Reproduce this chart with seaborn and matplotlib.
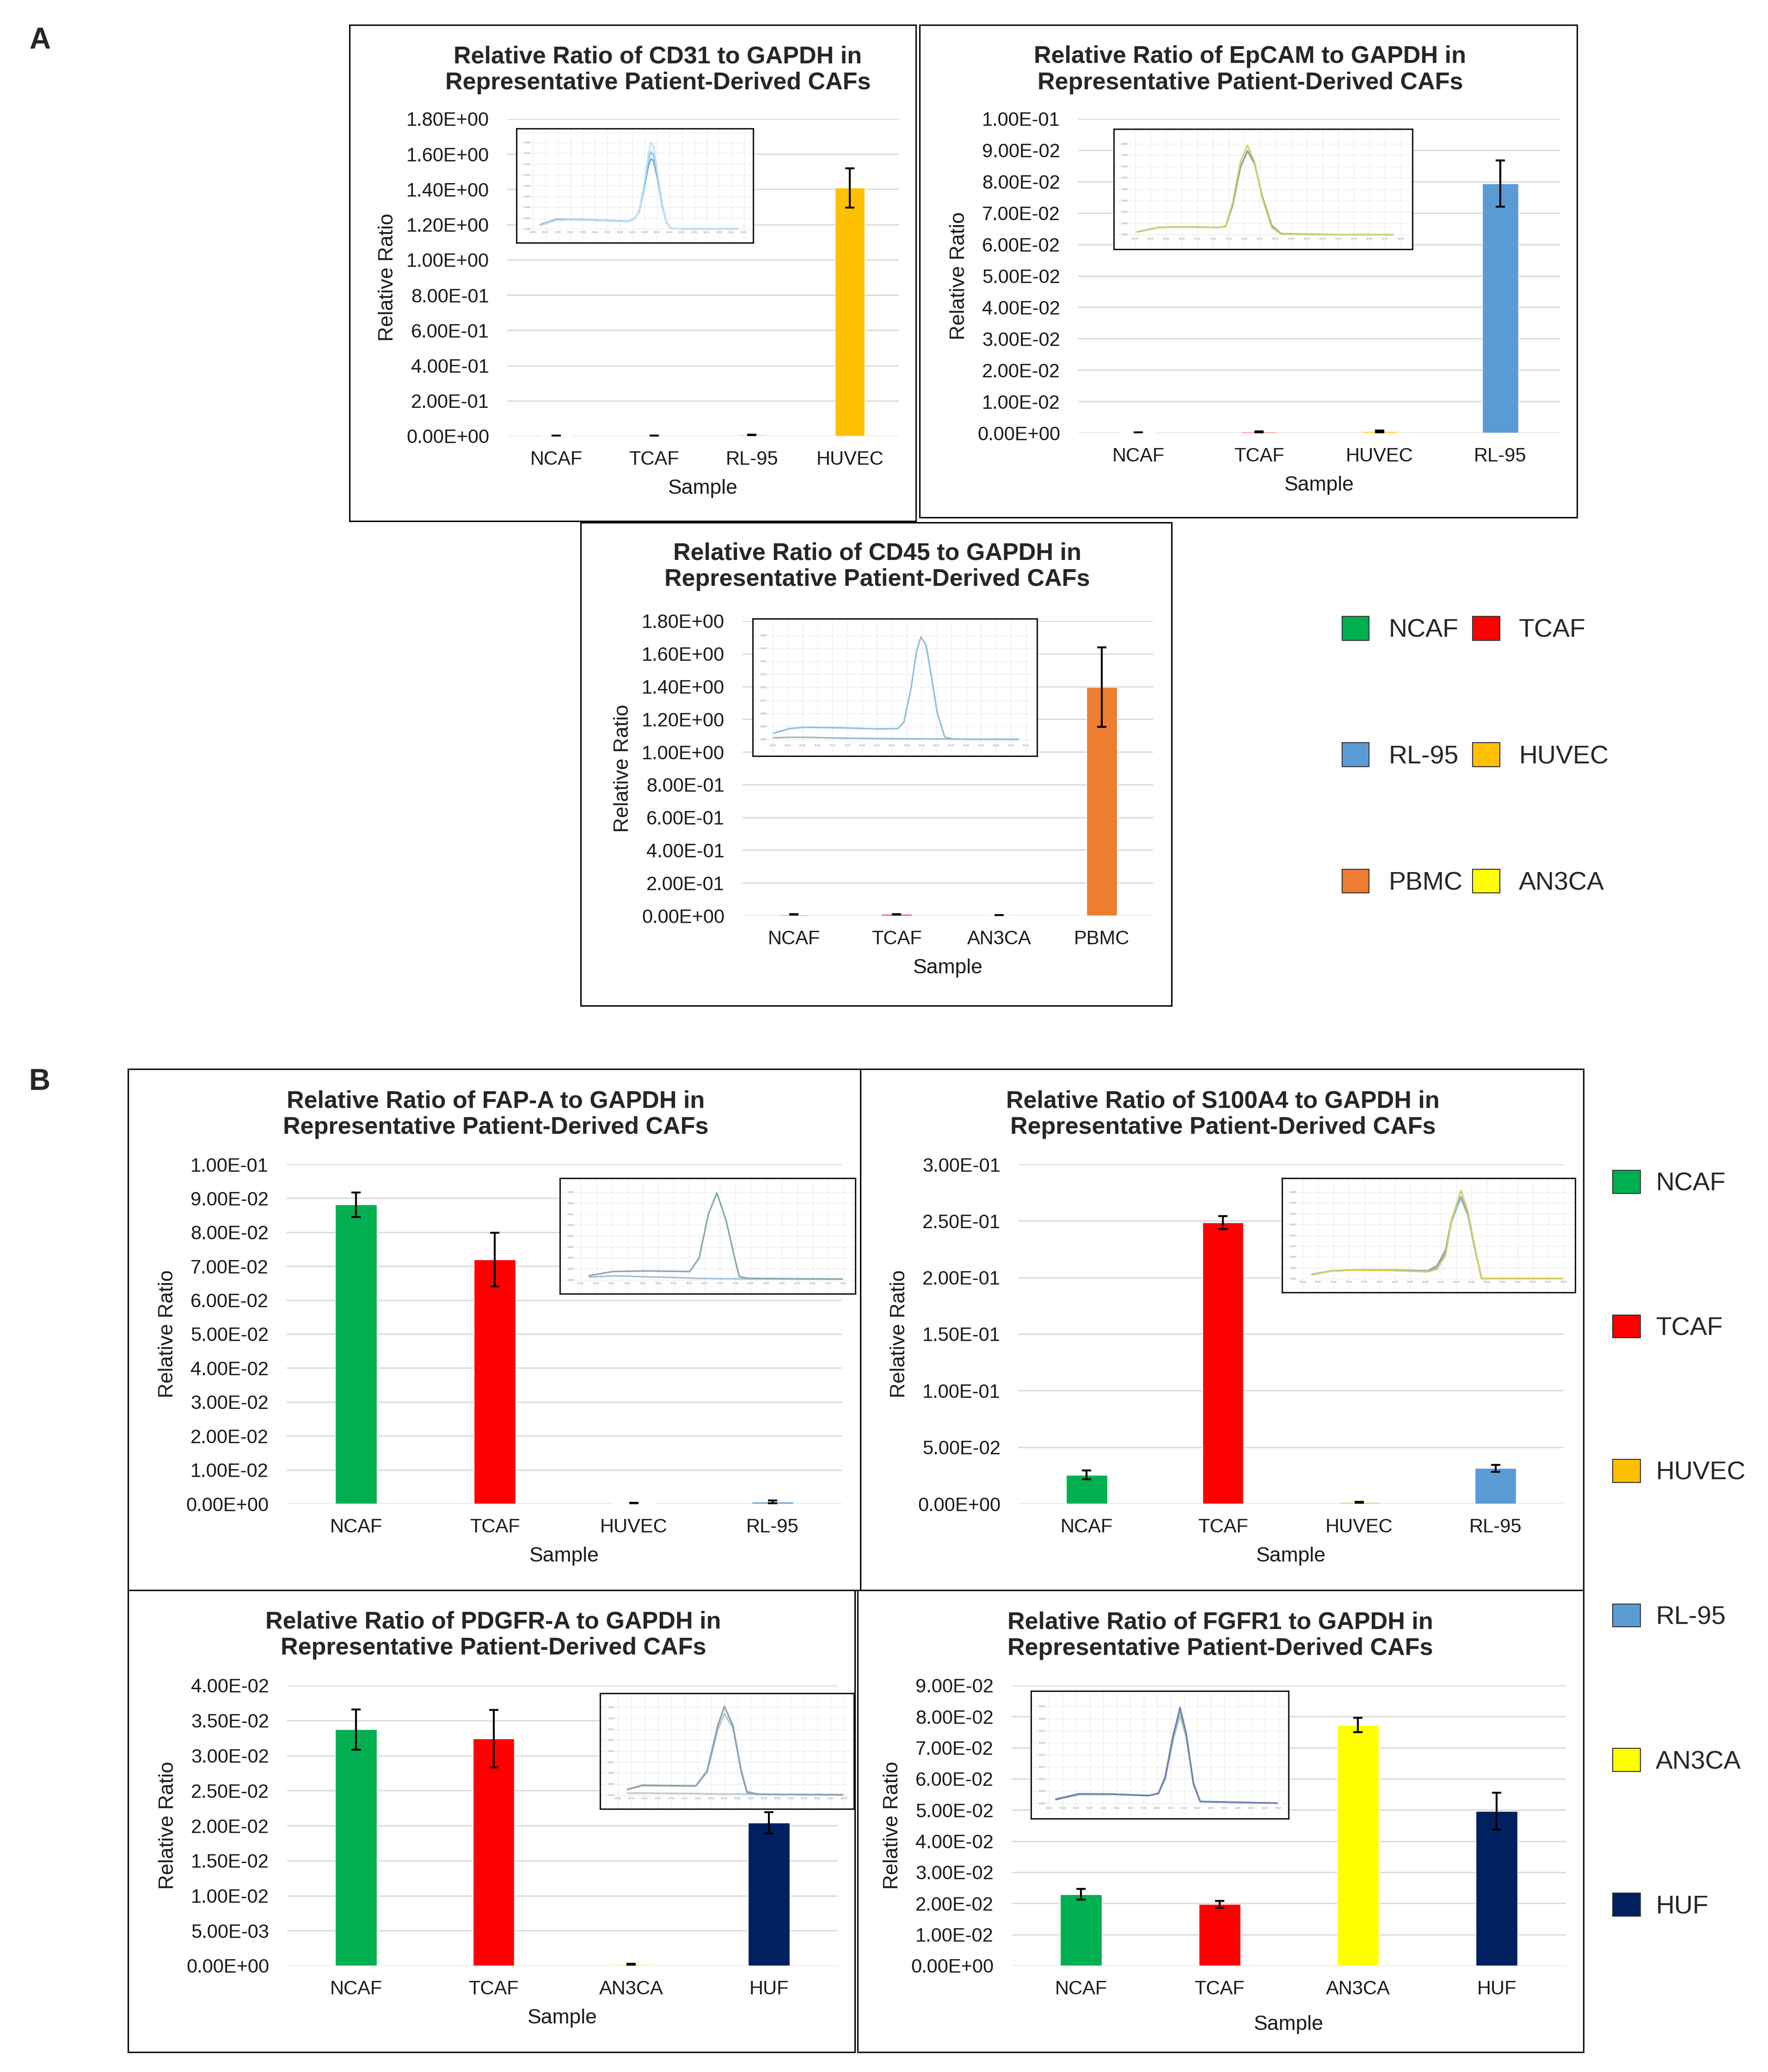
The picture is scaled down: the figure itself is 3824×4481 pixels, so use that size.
import numpy as np
import pandas as pd
import matplotlib
matplotlib.use('Agg')
import matplotlib.pyplot as plt
from matplotlib.patches import Rectangle, Patch
from matplotlib.ticker import FuncFormatter
import seaborn as sns

sns.set_style('white')
plt.rcParams['font.family'] = ['Liberation Sans', 'DejaVu Sans']

W, H = 3824, 4481

# sample colours (Excel defaults)
sample_colors = {'NCAF': '#00B050', 'TCAF': '#FF0000', 'HUVEC': '#FFC000',
                 'RL-95': '#5B9BD5', 'AN3CA': '#FFFF00', 'HUF': '#002060',
                 'PBMC': '#ED7D31'}

# ---- bar data (relative ratio to GAPDH, mean and error) ----
cd31_samples = ['NCAF', 'TCAF', 'RL-95', 'HUVEC']
cd31_ratio = [0.0015, 0.0012, 0.0060, 1.408]
cd31_err = [0.0008, 0.0006, 0.0012, 0.112]

epcam_samples = ['NCAF', 'TCAF', 'HUVEC', 'RL-95']
epcam_ratio = [0.0001, 0.0003, 0.0004, 0.0794]
epcam_err = [0.0001, 0.0001, 0.0003, 0.0074]

cd45_samples = ['NCAF', 'TCAF', 'AN3CA', 'PBMC']
cd45_ratio = [0.0070, 0.0075, 0.0012, 1.395]
cd45_err = [0.0015, 0.0012, 0.0008, 0.243]

fap_samples = ['NCAF', 'TCAF', 'HUVEC', 'RL-95']
fap_ratio = [0.0881, 0.0719, 0.0002, 0.0005]
fap_err = [0.0036, 0.0079, 0.0001, 0.0004]

s100_samples = ['NCAF', 'TCAF', 'HUVEC', 'RL-95']
s100_ratio = [0.0254, 0.2485, 0.0012, 0.0314]
s100_err = [0.0039, 0.0058, 0.0003, 0.0030]

pdgfr_samples = ['NCAF', 'TCAF', 'AN3CA', 'HUF']
pdgfr_ratio = [0.0337, 0.0324, 0.0002, 0.0204]
pdgfr_err = [0.0029, 0.0041, 0.00005, 0.0015]

fgfr_samples = ['NCAF', 'TCAF', 'AN3CA', 'HUF']
fgfr_ratio = [0.0229, 0.0197, 0.0773, 0.0496]
fgfr_err = [0.0017, 0.0011, 0.0023, 0.0060]

# ---- melt curve insets (temperature, normalised dF/dT) ----
cd31_melt_temp = [65.2, 67.7, 69.7, 73.4, 77.2, 79.4, 80.4, 81.1, 81.9, 82.6, 83.0, 83.4, 84.1, 84.8, 85.6, 86.3, 88.3, 97.0]
cd31_melt_a = [0.04, 0.10, 0.105, 0.10, 0.09, 0.086, 0.117, 0.21, 0.52, 0.86, 1.00, 0.96, 0.64, 0.30, 0.06, 0.005, 0.0, 0.0]
cd31_melt_b = [0.04, 0.10, 0.105, 0.10, 0.09, 0.086, 0.117, 0.21, 0.50, 0.80, 0.89, 0.86, 0.60, 0.28, 0.06, 0.005, 0.0, 0.0]
cd31_melt_c = [0.05, 0.11, 0.11, 0.105, 0.095, 0.09, 0.12, 0.20, 0.47, 0.73, 0.81, 0.79, 0.57, 0.27, 0.06, 0.005, 0.0, 0.0]

epcam_melt_temp = [64.3, 67.0, 70.0, 74.7, 75.6, 76.5, 77.5, 78.4, 79.3, 80.3, 81.5, 82.7, 90.0, 97.0]
epcam_melt_a = [0.03, 0.08, 0.085, 0.08, 0.09, 0.35, 0.80, 0.98, 0.80, 0.40, 0.08, 0.005, 0.0, 0.0]
epcam_melt_b = [0.03, 0.08, 0.085, 0.08, 0.09, 0.32, 0.74, 0.92, 0.78, 0.42, 0.10, 0.01, 0.0, 0.0]

cd45_melt_temp = [64.1, 66.3, 68.3, 73.3, 78.3, 80.8, 81.6, 82.6, 83.3, 83.9, 84.6, 85.3, 86.1, 87.1, 88.3, 97.0]
cd45_melt_a = [0.059, 0.104, 0.116, 0.111, 0.10, 0.104, 0.163, 0.504, 0.845, 0.986, 0.904, 0.608, 0.252, 0.022, 0.003, 0.0]
cd45_melt_b = [0.015, 0.02, 0.02, 0.012, 0.008, 0.006, 0.006, 0.005, 0.005, 0.005, 0.005, 0.004, 0.004, 0.003, 0.002, 0.0]

fap_melt_temp = [65.1, 68.1, 72.4, 78.1, 79.3, 80.5, 81.6, 82.8, 83.9, 84.5, 85.7, 97.8]
fap_melt_a = [0.047, 0.094, 0.101, 0.094, 0.248, 0.751, 0.992, 0.674, 0.248, 0.036, 0.016, 0.008]
fap_melt_b = [0.03, 0.045, 0.035, 0.02, 0.015, 0.015, 0.012, 0.012, 0.012, 0.01, 0.01, 0.008]

s100_melt_temp = [65.2, 67.8, 70.8, 75.8, 80.3, 81.5, 82.6, 83.4, 84.6, 85.5, 86.5, 87.3, 97.8]
s100_melt_a = [0.044, 0.088, 0.097, 0.092, 0.078, 0.11, 0.27, 0.68, 1.02, 0.78, 0.33, 0.0, 0.0]
s100_melt_b = [0.044, 0.09, 0.10, 0.095, 0.08, 0.124, 0.29, 0.66, 0.95, 0.76, 0.32, 0.0, 0.0]
s100_melt_c = [0.05, 0.09, 0.10, 0.10, 0.09, 0.15, 0.33, 0.69, 0.93, 0.74, 0.31, 0.0, 0.0]

pdgfr_melt_temp = [65.4, 67.6, 75.7, 77.4, 79.0, 80.0, 81.3, 82.5, 83.4, 85.2, 97.8]
pdgfr_melt_a = [0.062, 0.11, 0.103, 0.275, 0.79, 1.01, 0.79, 0.275, 0.027, 0.007, 0.0]
pdgfr_melt_b = [0.06, 0.105, 0.10, 0.26, 0.74, 0.93, 0.76, 0.30, 0.04, 0.008, 0.0]
pdgfr_melt_c = [0.02, 0.02, 0.015, 0.012, 0.01, 0.01, 0.01, 0.01, 0.008, 0.006, 0.004]

fgfr_melt_temp = [65.0, 68.4, 73.3, 78.8, 80.2, 81.2, 82.4, 83.4, 84.3, 85.4, 86.4, 97.8]
fgfr_melt_a = [0.037, 0.093, 0.093, 0.077, 0.102, 0.263, 0.697, 0.99, 0.728, 0.201, 0.015, 0.0]
fgfr_melt_b = [0.04, 0.09, 0.09, 0.08, 0.10, 0.28, 0.72, 0.95, 0.70, 0.19, 0.015, 0.0]
fgfr_melt_c = [0.045, 0.10, 0.095, 0.08, 0.098, 0.25, 0.66, 0.90, 0.69, 0.21, 0.02, 0.0]

legend_a_order = ['NCAF', 'RL-95', 'PBMC', 'TCAF', 'HUVEC', 'AN3CA']
legend_b_order = ['NCAF', 'TCAF', 'HUVEC', 'RL-95', 'AN3CA', 'HUF']

fig = plt.figure(figsize=(W / 100, H / 100), dpi=100)
fig.patch.set_facecolor('white')


def rect(x0, y0, x1, y1):
    # pixel box (top-left origin) -> figure fraction
    return [x0 / W, 1 - y1 / H, (x1 - x0) / W, (y1 - y0) / H]


def frame(x0, y0, x1, y1):
    fig.add_artist(Rectangle((x0 / W, 1 - y1 / H), (x1 - x0) / W, (y1 - y0) / H,
                             transform=fig.transFigure, fill=False, ec='black', lw=2.2))


def bar_panel(box, samples, ratio, err, ymax, ystep, title, title_xy, xlabelpad=16):
    ax = fig.add_axes(rect(*box))
    df = pd.DataFrame({'Sample': samples, 'Ratio': ratio})
    sns.barplot(data=df, x='Sample', y='Ratio', hue='Sample', palette=sample_colors,
                saturation=1, width=0.3, legend=False, ax=ax, zorder=3)
    ax.errorbar(np.arange(len(samples)), ratio, yerr=err, fmt='none', ecolor='black',
                elinewidth=3, capsize=7, capthick=3, zorder=5)
    ax.set_xlim(-0.5, len(samples) - 0.5)
    ax.set_ylim(0, ymax)
    ax.set_yticks(np.arange(0, ymax + ystep / 2, ystep))
    ax.yaxis.set_major_formatter(FuncFormatter(lambda v, p: f'{v:.2E}'))
    ax.grid(axis='y', color='#D9D9D9', lw=2)
    ax.set_axisbelow(True)
    sns.despine(ax=ax, left=True, bottom=True)
    ax.tick_params(axis='both', length=0, labelsize=30, colors='#1a1a1a')
    ax.tick_params(axis='x', pad=22)
    ax.tick_params(axis='y', pad=28)
    ax.set_xlabel('Sample', fontsize=32, labelpad=xlabelpad, color='#1a1a1a')
    ax.set_ylabel('Relative Ratio', fontsize=32, labelpad=14, color='#1a1a1a')
    fig.text(title_xy[0] / W, 1 - title_xy[1] / H, title, ha='center', va='center',
             fontsize=37.5, fontweight='bold', linespacing=1.2)
    return ax


def melt_inset(box, temps, curves, colors):
    ax = fig.add_axes(rect(*box))
    ax.set_facecolor('white')
    for vals, c in zip(curves, colors):
        sns.lineplot(x=temps, y=vals, color=c, lw=2.4, ax=ax)
    ax.set_xlim(61.3, 99.5)
    ax.set_ylim(-0.16, 1.16)
    xt = np.arange(64, 99, 2)
    yt = np.arange(0, 1.01, 0.125)
    ax.set_xticks(xt)
    ax.set_yticks(yt)
    ax.set_xticklabels([f'{t:.2f}' for t in xt], fontsize=4, color='#8c8c8c')
    ax.set_yticklabels([f'{v * 0.02:.3f}' for v in yt], fontsize=4, color='#8c8c8c')
    ax.tick_params(axis='x', length=0, pad=-18)
    ax.tick_params(axis='y', length=0, pad=-22)
    ax.grid(color='#EBEBEB', lw=0.9)
    ax.set_xlabel('')
    ax.set_ylabel('')
    for s in ax.spines.values():
        s.set_visible(True)
        s.set_color('black')
        s.set_linewidth(2)
    return ax


# ---- panel A ----
frame(756, 54, 1981, 1127)
frame(1989, 54, 3411, 1119)
frame(1256, 1130, 2534, 2175)

bar_panel((1097, 257, 1944, 943), cd31_samples, cd31_ratio, cd31_err, 1.8, 0.2,
          'Relative Ratio of CD31 to GAPDH in\nRepresentative Patient-Derived CAFs', (1423, 151))
bar_panel((2332, 257, 3375, 936), epcam_samples, epcam_ratio, epcam_err, 0.1, 0.01,
          'Relative Ratio of EpCAM to GAPDH in\nRepresentative Patient-Derived CAFs', (2704, 151))
bar_panel((1606, 1343, 2494, 1980), cd45_samples, cd45_ratio, cd45_err, 1.8, 0.2,
          'Relative Ratio of CD45 to GAPDH in\nRepresentative Patient-Derived CAFs', (1897, 1225))

melt_inset((1117, 278, 1629, 525), cd31_melt_temp, [cd31_melt_c, cd31_melt_b, cd31_melt_a],
           ['#6FA8D6', '#8EC3E6', '#BFE3F5'])
melt_inset((2409, 279, 3055, 539), epcam_melt_temp, [epcam_melt_b, epcam_melt_a],
           ['#8C9C86', '#C8D26B'])
melt_inset((1628, 1338, 2243, 1635), cd45_melt_temp, [cd45_melt_b, cd45_melt_a],
           ['#9DB8C9', '#8EBFDD'])

# ---- panel B ----
frame(277, 2312, 1861, 3439)
frame(1861, 2312, 3425, 3439)
frame(277, 3439, 1849, 4438)
frame(1855, 3439, 3425, 4438)

bar_panel((620, 2518, 1821, 3252), fap_samples, fap_ratio, fap_err, 0.1, 0.01,
          'Relative Ratio of FAP-A to GAPDH in\nRepresentative Patient-Derived CAFs', (1072, 2410))
bar_panel((2203, 2518, 3382, 3252), s100_samples, s100_ratio, s100_err, 0.3, 0.05,
          'Relative Ratio of S100A4 to GAPDH in\nRepresentative Patient-Derived CAFs', (2645, 2410))
bar_panel((621, 3645, 1812, 4251), pdgfr_samples, pdgfr_ratio, pdgfr_err, 0.04, 0.005,
          'Relative Ratio of PDGFR-A to GAPDH in\nRepresentative Patient-Derived CAFs', (1067, 3536))
bar_panel((2188, 3645, 3387, 4251), fgfr_samples, fgfr_ratio, fgfr_err, 0.09, 0.01,
          'Relative Ratio of FGFR1 to GAPDH in\nRepresentative Patient-Derived CAFs', (2639, 3537),
          xlabelpad=26)

melt_inset((1211, 2548, 1850, 2798), fap_melt_temp, [fap_melt_b, fap_melt_a],
           ['#A8BFCF', '#86A8B2'])
melt_inset((2773, 2548, 3407, 2795), s100_melt_temp, [s100_melt_c, s100_melt_b, s100_melt_a],
           ['#8FA3B0', '#7FB6D8', '#D9CF5A'])
melt_inset((1298, 3662, 1847, 3912), pdgfr_melt_temp, [pdgfr_melt_c, pdgfr_melt_b, pdgfr_melt_a],
           ['#B8C8D8', '#A9C8CC', '#8A9FB0'])
melt_inset((2230, 3657, 2787, 3933), fgfr_melt_temp, [fgfr_melt_c, fgfr_melt_b, fgfr_melt_a],
           ['#9ECAE1', '#A9C46C', '#6F7FB5'])

# ---- legends ----
handles_a = [Patch(facecolor=sample_colors[n], edgecolor='#333333', lw=1.5, label=n)
             for n in legend_a_order]
fig.legend(handles=handles_a, loc='upper left', bbox_to_anchor=(2903 / W, 1 - 1333 / H),
           ncol=2, frameon=False, fontsize=40, handlelength=1.05, handleheight=1.05,
           handletextpad=0.75, columnspacing=0.4, labelspacing=3.9, borderpad=0,
           borderaxespad=0)

handles_b = [Patch(facecolor=sample_colors[n], edgecolor='#333333', lw=1.5, label=n)
             for n in legend_b_order]
fig.legend(handles=handles_b, loc='upper left', bbox_to_anchor=(3488 / W, 1 - 2531 / H),
           ncol=1, frameon=False, fontsize=40, handlelength=1.08, handleheight=1.0,
           handletextpad=0.6, labelspacing=4.62, borderpad=0, borderaxespad=0)

fig.text(86 / W, 1 - 88 / H, 'A', fontsize=46, fontweight='bold', ha='center', va='center')
fig.text(86 / W, 1 - 2340 / H, 'B', fontsize=46, fontweight='bold', ha='center', va='center')

fig.savefig('out.png', dpi=100, facecolor='white')
